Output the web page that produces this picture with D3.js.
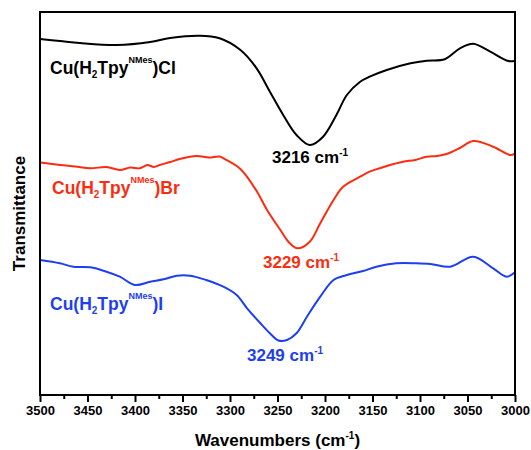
<!DOCTYPE html>
<html>
<head>
<meta charset="utf-8">
<script src="https://cdn.jsdelivr.net/npm/d3@7"></script>
<style>
  html, body { margin: 0; padding: 0; background: #fff; }
  svg { display: block; font-family: Arial, "Liberation Sans", sans-serif; font-weight: bold; }
</style>
</head>
<body>
<svg id="chart" width="531" height="450"></svg>
<script>
// IR spectra (N-H stretch region), stacked transmittance traces in arbitrary units
const wnCl = [3500, 3479, 3458, 3419, 3384, 3363, 3332, 3311, 3289, 3272, 3258, 3244, 3230, 3216, 3202, 3188, 3177, 3163, 3153, 3135, 3110, 3093, 3074, 3058, 3044, 3026, 3007, 3000];
const tCl  = [356, 354, 352, 350, 353, 357, 359.3, 356.7, 345, 326.7, 303.3, 280, 260, 250, 258.3, 280, 300, 313.3, 318.3, 325, 331.7, 334.3, 335.7, 346.7, 351.3, 343.3, 334, 334.3];

const wnBr = [3500, 3479, 3463, 3447, 3430, 3416, 3405, 3395, 3387, 3380, 3374, 3363, 3353, 3335, 3322, 3311, 3305, 3289, 3272, 3261, 3247, 3237, 3229, 3216, 3205, 3191, 3181, 3163, 3153, 3135, 3118, 3105, 3093, 3082, 3072, 3058, 3044, 3023, 3005, 3000];
const tBr  = [232.5, 230, 228.5, 226.7, 228, 225, 227.5, 226.7, 230, 228, 230, 233, 236, 239, 237.5, 238.5, 235.7, 226, 204, 185, 165, 151.7, 146.7, 153.3, 171.7, 195, 208.3, 218.3, 223.3, 229, 233.3, 235, 238.3, 239, 241, 247, 254, 248.3, 240, 241.7];

const wnI = [3500, 3479, 3465, 3447, 3430, 3416, 3400, 3384, 3370, 3356, 3342, 3325, 3307, 3293, 3282, 3268, 3258, 3249, 3240, 3230, 3219, 3205, 3191, 3177, 3160, 3146, 3125, 3104, 3089, 3068, 3044, 3023, 3009, 3000];
const tI  = [135, 131.7, 128.3, 127.7, 123.3, 118.3, 110, 113.3, 115.7, 119.3, 119.3, 115, 108.3, 100, 86.7, 71.7, 61.7, 54.5, 55, 61.7, 78.3, 98.3, 115, 120, 124, 128.3, 131.7, 131.7, 131, 128.3, 138.3, 126.7, 118.3, 122.7];

// Axis ticks
const majorTicks = [3500, 3450, 3400, 3350, 3300, 3250, 3200, 3150, 3100, 3050, 3000];
const minorTicks = [3475, 3425, 3375, 3325, 3275, 3225, 3175, 3125, 3075, 3025];

// Series: name parts (main, subscript, main, superscript, main), colour, peak label
const series = [
  { wn: wnCl, t: tCl, color: "#000000", parts: ["Cu(H", "2", "Tpy", "NMes", ")Cl"], lx: 50, ly: 74,  peak: "3216", px: 272, py: 163 },
  { wn: wnBr, t: tBr, color: "#fb2c10", parts: ["Cu(H", "2", "Tpy", "NMes", ")Br"], lx: 52, ly: 194, peak: "3229", px: 263, py: 268 },
  { wn: wnI,  t: tI,  color: "#1e3ef2", parts: ["Cu(H", "2", "Tpy", "NMes", ")I"],  lx: 50, ly: 310, peak: "3249", px: 247, py: 361 }
];

const svg = d3.select("#chart");
const plotL = 40, plotR = 515, plotT = 12, plotB = 395;

const x = d3.scaleLinear().domain([3500, 3000]).range([plotL, plotR]);
const y = d3.scaleLinear().domain([0, 383]).range([plotB, plotT]);

// Spectra
const line = d3.line()
  .x(d => x(d[0]))
  .y(d => y(d[1]))
  .curve(d3.curveCatmullRom.alpha(0.5));

series.forEach(s => {
  const pts = s.wn.map((w, i) => [w, s.t[i]]);
  svg.append("path")
    .attr("d", line(pts))
    .attr("fill", "none")
    .attr("stroke", s.color)
    .attr("stroke-width", 2)
    .attr("stroke-linejoin", "round");
});

// Frame
svg.append("rect")
  .attr("x", plotL).attr("y", plotT)
  .attr("width", plotR - plotL).attr("height", plotB - plotT)
  .attr("fill", "none").attr("stroke", "#000").attr("stroke-width", 2);

// Bottom axis: major ticks with labels
const gx = svg.append("g").attr("transform", `translate(0,${plotB})`)
  .call(d3.axisBottom(x).tickValues(majorTicks).tickSize(7).tickPadding(4).tickFormat(d3.format("d")));
gx.select(".domain").remove();
gx.selectAll(".tick line").attr("stroke", "#000").attr("stroke-width", 2);
gx.selectAll(".tick text")
  .attr("font-family", "Arial, 'Liberation Sans', sans-serif")
  .attr("font-weight", "bold").attr("font-size", 13).attr("fill", "#000");

// Minor ticks
const gm = svg.append("g").attr("transform", `translate(0,${plotB})`)
  .call(d3.axisBottom(x).tickValues(minorTicks).tickSize(4).tickFormat(""));
gm.select(".domain").remove();
gm.selectAll(".tick line").attr("stroke", "#000").attr("stroke-width", 2);

// Axis titles
const xt = svg.append("text")
  .attr("x", (plotL + plotR) / 2).attr("y", 446)
  .attr("text-anchor", "middle").attr("font-size", 17).attr("fill", "#000");
xt.append("tspan").text("Wavenumbers (cm");
xt.append("tspan").attr("font-size", 10).attr("dy", -7).text("-1");
xt.append("tspan").attr("dy", 7).text(")");

svg.append("text")
  .attr("transform", `translate(25,${(plotT + plotB) / 2 + 10}) rotate(-90)`)
  .attr("text-anchor", "middle").attr("font-size", 17).attr("fill", "#000")
  .text("Transmittance");

// Compound labels and peak positions
series.forEach(s => {
  const t = svg.append("text")
    .attr("x", s.lx).attr("y", s.ly)
    .attr("font-size", 17.5).attr("fill", s.color);
  t.append("tspan").text(s.parts[0]);
  t.append("tspan").attr("font-size", 10).attr("dy", 4).text(s.parts[1]);
  t.append("tspan").attr("dy", -4).text(s.parts[2]);
  t.append("tspan").attr("font-size", 9).attr("dy", -11).text(s.parts[3]);
  t.append("tspan").attr("dy", 11).text(s.parts[4]);

  const p = svg.append("text")
    .attr("x", s.px).attr("y", s.py)
    .attr("font-size", 17).attr("fill", s.color);
  p.append("tspan").text(s.peak + " cm");
  p.append("tspan").attr("font-size", 10).attr("dy", -7).text("-1");
});
</script>
</body>
</html>
